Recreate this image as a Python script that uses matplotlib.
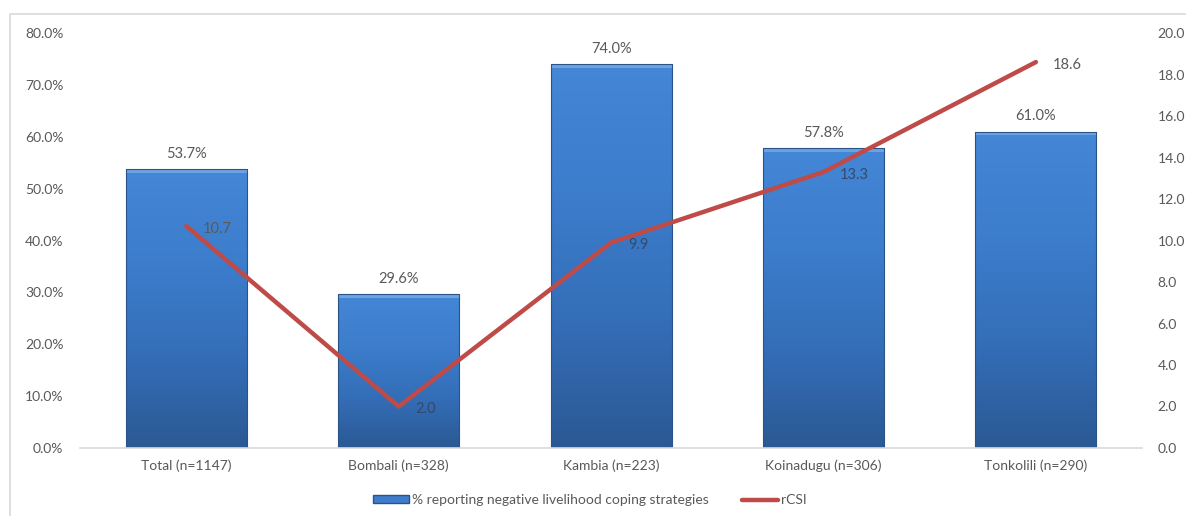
"""
Negative livelihood coping strategies and rCSI by district
"""

import numpy as np
import matplotlib
matplotlib.use('Agg')
import matplotlib.pyplot as plt
from matplotlib.patches import Rectangle, Patch
from matplotlib.lines import Line2D
from matplotlib.ticker import FuncFormatter

plt.rcParams['font.family'] = ['Lato', 'DejaVu Sans']

# data
districts = ['Total (n=1147)', 'Bombali (n=328)', 'Kambia (n=223)',
             'Koinadugu (n=306)', 'Tonkolili (n=290)']
pct_negative = [53.7, 29.6, 74.0, 57.8, 61.0]
rcsi = [10.7, 2.0, 9.9, 13.3, 18.6]

TEXT = '#595959'
RED = '#be4b48'


def draw_gradient_bars(ax, bars):
    """
    blue bars with a vertical shading and a light top edge
    """
    cmap = matplotlib.colors.LinearSegmentedColormap.from_list(
        'bar', ['#2b5994', '#346eb8', '#3c7dcc', '#4487d6'])
    grad = np.linspace(0, 1, 256).reshape(-1, 1)
    for b in bars:
        x0, y0 = b.get_x(), b.get_y()
        w, h = b.get_width(), b.get_height()
        img = ax.imshow(grad, cmap=cmap, origin='lower', aspect='auto',
                        extent=[x0, x0 + w, y0, y0 + h], zorder=2,
                        interpolation='bicubic')
        img.set_clip_path(b)
        ax.add_patch(Rectangle((x0, y0 + h - 0.7), w, 0.7, facecolor='#6ea2e2',
                               edgecolor='none', zorder=2.1))
        b.set_facecolor('none')
        b.set_edgecolor('#2a5488')
        b.set_linewidth(0.8)
        b.set_zorder(2.2)


def main():
    fig = plt.figure(figsize=(11.86, 5.16), dpi=100)
    ax = fig.add_axes([0.0675, 0.1318, 0.8955, 0.8042])

    # outer chart border
    fig.add_artist(Rectangle((0.0085, -0.01), 1.0, 0.983, transform=fig.transFigure,
                             facecolor='none', edgecolor='#d9d9d9', linewidth=1.2))

    x = np.arange(len(districts))
    bars = ax.bar(x, pct_negative, width=0.57)
    ax.set_xlim(-0.5, len(districts) - 0.5)
    ax.set_ylim(0, 80)
    ax.set_yticks(np.arange(0, 81, 10))
    ax.yaxis.set_major_formatter(FuncFormatter(lambda v, p: f'{v:.1f}%'))
    ax.set_xticks(x)
    ax.set_xticklabels(districts)
    draw_gradient_bars(ax, bars)

    for i, v in enumerate(pct_negative):
        ax.annotate(f'{v:.1f}%', (x[i], v), xytext=(0, 6), textcoords='offset points',
                    ha='center', va='bottom', fontsize=10.5, color=TEXT)

    for s in ['top', 'left', 'right']:
        ax.spines[s].set_visible(False)
    ax.spines['bottom'].set_color('#d9d9d9')
    ax.spines['bottom'].set_linewidth(1.2)
    ax.tick_params(axis='y', length=0, pad=12, labelsize=10, labelcolor=TEXT)
    ax.tick_params(axis='x', length=0, pad=8, labelsize=10, labelcolor=TEXT)

    # rCSI on secondary axis
    ax2 = ax.twinx()
    ax2.plot(x, rcsi, color=RED, linewidth=3.2, solid_joinstyle='round',
             solid_capstyle='round', zorder=5)
    ax2.set_ylim(0, 20)
    ax2.set_yticks(np.arange(0, 21, 2))
    ax2.yaxis.set_major_formatter(FuncFormatter(lambda v, p: f'{v:.1f}'))
    ax2.tick_params(axis='y', length=0, pad=11, labelsize=10, labelcolor=TEXT)
    for s in ['top', 'left', 'right', 'bottom']:
        ax2.spines[s].set_visible(False)

    label_colors = [TEXT, '#34496a', '#34496a', '#34496a', TEXT]
    for i, v in enumerate(rcsi):
        ax2.annotate(f'{v:.1f}', (x[i], v), xytext=(12, -2), textcoords='offset points',
                     ha='left', va='center', fontsize=10.5, color=label_colors[i], zorder=6)

    handles = [Patch(facecolor='#3f7dcc', edgecolor='#2a5488'),
               Line2D([0], [0], color=RED, linewidth=3.2, solid_capstyle='round')]
    fig.legend(handles, ['% reporting negative livelihood coping strategies', 'rCSI'],
               loc='center', bbox_to_anchor=(0.497, 0.031), ncol=2, frameon=False,
               fontsize=10, labelcolor=TEXT, handlelength=2.6, handleheight=0.5,
               handletextpad=0.2, columnspacing=2.4)

    plt.savefig('out.png', dpi=100)


if __name__ == '__main__':
    main()
